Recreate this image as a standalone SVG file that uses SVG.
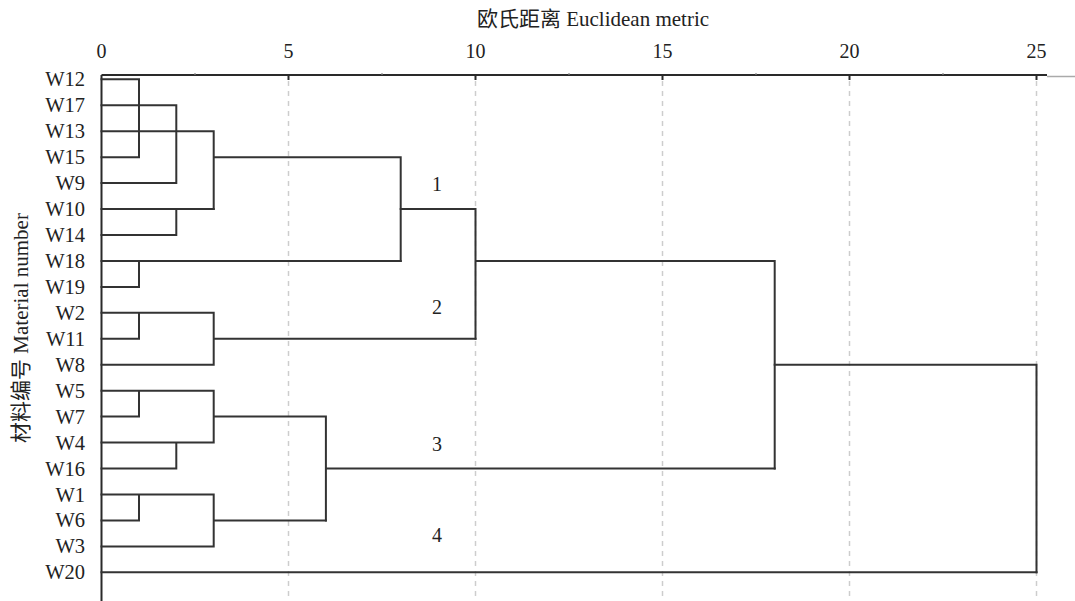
<svg xmlns="http://www.w3.org/2000/svg" width="1075" height="601" viewBox="0 0 1075 601">
<style>
text{font-family:"Liberation Serif","Noto Sans CJK SC",serif;font-size:20px;fill:#222}
.tick{text-anchor:middle}
.lbl{text-anchor:end;font-size:20.5px}
.title{font-size:21px}
.grid{stroke:#cdcdcd;stroke-width:1.5;stroke-dasharray:5 5;fill:none}
.axis{stroke:#2a2a2a;stroke-width:2;fill:none}
.link{stroke:#333;stroke-width:2;fill:none;stroke-linecap:square}
</style>
<rect width="1075" height="601" fill="#fff"/>
<g id="grid">
<path class="grid" d="M288.5 81V601M475.5 81V601M662.5 81V601M849.5 81V601M1036.5 81V601"/>
</g>
<g id="axes">
<path class="axis" d="M101.5 75H1047M101.5 75V601"/>
<path stroke="#aaa" stroke-width="1.5" d="M1047 76.5H1075"/>
<path class="axis" d="M288.5 75V80M475.5 75V80M662.5 75V80M849.5 75V80M1036.5 75V80"/>
<path stroke="#888" stroke-width="1.2" d="M195 73V75M382 73V75M569 73V75M756 73V75M943 73V75"/>
<text class="tick" x="101.5" y="58">0</text>
<text class="tick" x="288.5" y="58">5</text>
<text class="tick" x="475.5" y="58">10</text>
<text class="tick" x="662.5" y="58">15</text>
<text class="tick" x="849.5" y="58">20</text>
<text class="tick" x="1036.5" y="58">25</text>
<text class="title" x="593" y="26" text-anchor="middle">欧氏距离 Euclidean metric</text>
<text class="title" transform="translate(28,328) rotate(-90)" text-anchor="middle">材料编号 Material number</text>
</g>
<g id="leaves">
<text class="lbl" x="85" y="86">W12</text>
<text class="lbl" x="85" y="112">W17</text>
<text class="lbl" x="85" y="138">W13</text>
<text class="lbl" x="85" y="164">W15</text>
<text class="lbl" x="85" y="190">W9</text>
<text class="lbl" x="85" y="216">W10</text>
<text class="lbl" x="85" y="242">W14</text>
<text class="lbl" x="85" y="268">W18</text>
<text class="lbl" x="85" y="294">W19</text>
<text class="lbl" x="85" y="320">W2</text>
<text class="lbl" x="85" y="346">W11</text>
<text class="lbl" x="85" y="372">W8</text>
<text class="lbl" x="85" y="398">W5</text>
<text class="lbl" x="85" y="424">W7</text>
<text class="lbl" x="85" y="450">W4</text>
<text class="lbl" x="85" y="476">W16</text>
<text class="lbl" x="85" y="502">W1</text>
<text class="lbl" x="85" y="527">W6</text>
<text class="lbl" x="85" y="553">W3</text>
<text class="lbl" x="85" y="579">W20</text>
</g>
<g id="clusters">
<text class="tick" x="437" y="191">1</text>
<text class="tick" x="437" y="314">2</text>
<text class="tick" x="437" y="451">3</text>
<text class="tick" x="437" y="542">4</text>
</g>
<g id="connectors">
<path class="link" d="M101.5 79.3H139V157.2M101.5 105.3H176.3V183.1M101.5 131.2H213.7V209M101.5 157.2H139M213.7 157.2H400.7V261M101.5 183.1H176.3"/>
<path class="link" d="M101.5 209H213.7M400.7 209H475.5V338.8M101.5 235H176.3V209M101.5 261H400.7M475.5 261H774.7V468.5M101.5 286.9H139V261"/>
<path class="link" d="M101.5 312.8H213.7V364.7M101.5 338.8H139V312.8M213.7 338.8H475.5M101.5 364.7H213.7M774.7 364.7H1036.5V572.3"/>
<path class="link" d="M101.5 390.7H213.7V442.6M101.5 416.6H139V390.7M213.7 416.6H325.9V520.4M101.5 442.6H213.7M101.5 468.5H176.3V442.6M325.9 468.5H774.7"/>
<path class="link" d="M101.5 494.5H213.7V546.4M101.5 520.4H139V494.5M213.7 520.4H325.9M101.5 546.4H213.7M101.5 572.3H1036.5"/>
</g>
</svg>
